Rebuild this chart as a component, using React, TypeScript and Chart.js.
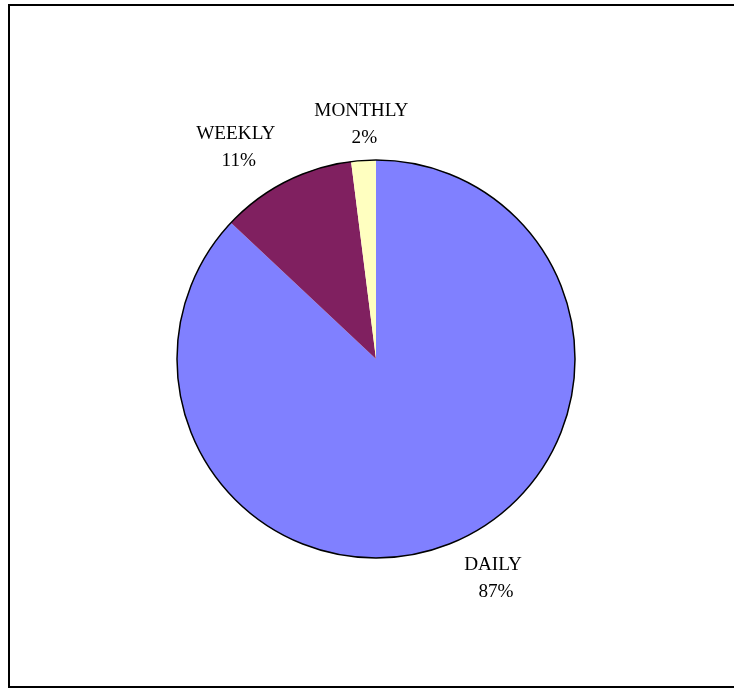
import React, { useEffect, useRef } from "react";
import { Chart, registerables } from "chart.js";

Chart.register(...registerables);

const categories = ["DAILY", "WEEKLY", "MONTHLY"];
const values = [87, 11, 2];
const percentLabels = ["87%", "11%", "2%"];
const sliceColors = ["#8080FF", "#802060", "#FFFFC0"];

const outlineAndLabels = {
  id: "outlineAndLabels",
  afterDatasetsDraw(chart: any) {
    const meta = chart.getDatasetMeta(0);
    const ctx = chart.ctx as CanvasRenderingContext2D;
    const first = meta.data[0] as any;
    const { x, y, outerRadius } = first.getProps(["x", "y", "outerRadius"], true);
    ctx.save();
    ctx.beginPath();
    ctx.arc(x, y, outerRadius, 0, Math.PI * 2);
    ctx.lineWidth = 1.5;
    ctx.strokeStyle = "#000";
    ctx.stroke();

    ctx.font = '19.2px "Liberation Serif", "Times New Roman", serif';
    ctx.fillStyle = "#000";
    ctx.textAlign = "center";
    ctx.textBaseline = "alphabetic";
    const lineGap = 27;
    const capH = 12.8;
    const h = 46;
    const ease = (u: number) => {
      const t = Math.min(Math.abs(u) / 0.4, 1);
      return Math.sign(u) * t * t;
    };
    meta.data.forEach((el: any, i: number) => {
      const { startAngle, endAngle } = el.getProps(["startAngle", "endAngle"], true);
      const mid = (startAngle + endAngle) / 2;
      const ux = Math.cos(mid);
      const uy = Math.sin(mid);
      const lines = [categories[i], percentLabels[i]];
      const w = Math.max(...lines.map((l) => ctx.measureText(l).width));
      const d = outerRadius + 14;
      const cx = x + ux * d + ease(ux) * (w / 2 + 4);
      const cy = y + uy * d + (ease(uy) * h) / 2;
      ctx.fillText(lines[0], cx, cy - lineGap / 2 + capH / 2);
      ctx.fillText(lines[1], cx + 3, cy + lineGap / 2 + capH / 2);
    });
    ctx.restore();
  },
};

export default function App() {
  const canvasRef = useRef<HTMLCanvasElement | null>(null);

  useEffect(() => {
    if (!canvasRef.current) return;
    const chart = new Chart(canvasRef.current, {
      type: "pie",
      data: {
        labels: categories,
        datasets: [
          {
            data: values,
            backgroundColor: sliceColors,
            borderWidth: 0,
          },
        ],
      },
      options: {
        responsive: false,
        animation: false,
        layout: { padding: { left: 167, right: 159, top: 154, bottom: 128 } },
        plugins: {
          legend: { display: false },
          tooltip: { enabled: false },
          title: { display: false },
        },
      },
      plugins: [outlineAndLabels],
    });
    return () => chart.destroy();
  }, []);

  return (
    <div
      style={{
        position: "absolute",
        left: 8,
        top: 4,
        width: 724,
        height: 680,
        borderLeft: "2px solid #000",
        borderTop: "2px solid #000",
        borderBottom: "2px solid #000",
        background: "#fff",
      }}
    >
      <canvas ref={canvasRef} width={724} height={680} style={{ display: "block" }} />
    </div>
  );
}
